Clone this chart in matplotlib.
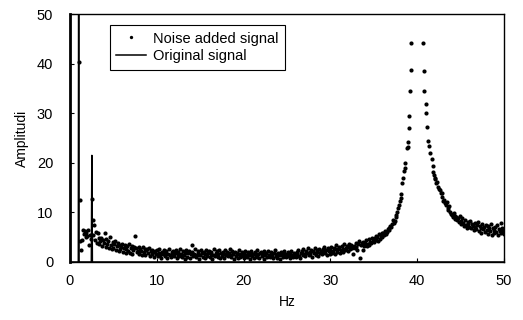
import numpy as np
import matplotlib
matplotlib.use("Agg")
import matplotlib.pyplot as plt

plt.rcParams.update({
    "font.family": ["Liberation Sans", "DejaVu Sans"], "font.size": 10,
    "axes.linewidth": 1.0,
})

# noise-added spectrum, 1.0 .. 37.4 Hz every 0.1 Hz
floor_lo = [
    40.3, 12.6, 4.2, 2.4, 4.4, 6.5, 5.6, 6.2, 5.1, 5.9,
    5.2, 6.4, 3.4, 5.5, 4.6, 12.8, 8.5, 5.4, 7.5, 4.4,
    6.0, 3.9, 5.8, 4.8, 3.6, 4.2, 4.9, 3.3, 4.5, 3.8,
    5.8, 3.1, 4.6, 3.7, 4.2, 2.8, 5.0, 3.4, 2.6, 4.1,
    2.9, 3.6, 4.2, 2.4, 3.3, 3.9, 2.2, 3.5, 2.7, 3.0,
    3.7, 2.1, 2.9, 3.4, 1.8, 2.6, 3.2, 2.3, 3.6, 1.9,
    2.8, 3.3, 1.7, 2.5, 3.0, 5.3, 2.9, 2.0, 2.2, 3.1,
    1.6, 2.7, 2.3, 1.4, 3.0, 2.0, 2.6, 1.5, 2.4, 2.6,
    1.9, 2.8, 1.3, 2.2, 1.7, 2.5, 2.0, 1.1, 2.3, 1.6,
    2.4, 1.2, 1.9, 2.7, 1.5, 0.9, 2.1, 1.7, 2.5, 1.3,
    1.8, 2.2, 0.8, 1.6, 2.6, 1.4, 1.0, 2.0, 1.7, 2.3,
    1.2, 1.9, 2.4, 0.9, 1.5, 2.1, 1.3, 2.7, 1.6, 1.0,
    2.2, 1.4, 0.7, 1.9, 2.5, 1.1, 1.8, 2.3, 0.8, 1.6,
    3.4, 2.0, 1.2, 1.7, 2.6, 1.0, 1.5, 2.2, 1.9, 0.6,
    1.4, 2.4, 1.8, 1.1, 2.1, 1.6, 0.9, 2.5, 1.3, 1.9,
    2.3, 1.0, 1.7, 2.0, 0.7, 1.5, 2.6, 1.2, 1.8, 2.2,
    1.1, 1.6, 2.4, 0.9, 1.9, 1.3, 2.1, 1.7, 0.8, 2.5,
    1.5, 2.0, 1.2, 1.8, 2.7, 1.0, 1.4, 2.2, 1.6, 0.7,
    2.1, 1.3, 1.9, 0.8, 1.6, 2.4, 1.1, 1.7, 2.0, 1.2,
    0.9, 1.8, 2.3, 1.4, 1.0, 2.0, 1.5, 0.6, 1.9, 2.2,
    1.3, 1.7, 0.8, 2.1, 1.5, 1.1, 2.5, 1.6, 0.9, 1.8,
    2.0, 1.2, 1.6, 2.3, 0.7, 1.4, 1.9, 1.1, 2.2, 1.5,
    1.0, 1.7, 2.1, 1.3, 0.8, 1.8, 2.4, 1.2, 1.6, 0.9,
    1.9, 1.4, 0.7, 2.0, 1.5, 1.1, 1.8, 2.2, 1.3, 1.0,
    1.6, 2.1, 1.2, 0.8, 1.7, 2.3, 1.4, 1.0, 1.9, 1.5,
    1.1, 2.0, 1.6, 2.4, 1.3, 0.9, 1.8, 2.2, 1.5, 2.6,
    1.7, 1.2, 2.3, 1.9, 2.8, 1.4, 2.1, 1.6, 2.5, 1.0,
    2.2, 1.8, 2.9, 1.5, 2.4, 2.0, 1.3, 2.7, 1.9, 2.3,
    1.6, 2.6, 2.1, 3.0, 1.8, 2.4, 1.4, 2.8, 2.2, 1.7,
    2.5, 3.1, 1.9, 2.3, 2.9, 1.6, 2.7, 3.4, 2.1, 2.6,
    3.0, 1.8, 2.4, 3.3, 2.7, 2.0, 3.6, 2.5, 2.9, 3.2,
    2.2, 3.1, 3.7, 2.6, 3.4, 2.9, 1.7, 3.3, 2.8, 3.9,
    3.1, 2.5, 3.6, 4.2, 0.9, 3.4, 3.8, 2.4, 4.0, 3.3,
    3.9, 4.4, 3.2, 3.7, 4.6, 3.5, 4.1, 3.8, 4.9, 4.3,
    4.0, 4.8, 5.3, 4.5, 5.0, 4.2, 5.6, 4.7, 5.2, 5.9,
    5.1, 5.8, 5.4, 6.2, 5.7, 6.0, 6.6, 6.8, 6.4, 7.3,
    7.1, 7.6, 8.5, 7.9, 8.3,
]
# resonance near 40 Hz (values above 50 fall off the chart)
peak_hz = [37.5, 37.6, 37.7, 37.8, 37.9, 38.0, 38.1, 38.15, 38.3, 38.4,
           38.5, 38.55, 38.6, 38.8, 38.91, 38.98, 39.06, 39.08, 39.17, 39.24,
           39.28, 40.63, 40.76, 40.82, 40.98, 41.06, 41.1, 41.27, 41.38, 41.5,
           41.67, 41.78, 41.86, 41.92, 42.0]
peak_amp = [9.1, 9.5, 10.1, 10.8, 11.4, 12.2, 13.7, 13.0, 15.9, 17.0,
            18.4, 18.9, 20.0, 22.9, 23.1, 24.3, 27.0, 29.4, 34.5, 38.8,
            44.2, 44.1, 38.6, 34.5, 31.8, 30.0, 27.3, 24.5, 23.4, 22.0,
            20.7, 19.3, 18.2, 17.5, 16.9]
# 42.1 .. 50.0 Hz every 0.1 Hz
floor_hi = [
    16.7, 15.9, 16.2, 15.2, 14.8, 14.5, 14.0, 13.9, 13.1,
    12.2, 12.6, 11.8, 11.5, 12.0, 10.9, 10.5, 11.2, 10.0, 9.7,
    9.5, 9.0, 9.8, 8.7, 9.2, 9.1, 8.4, 8.9, 8.1, 9.3,
    8.2, 7.6, 8.8, 7.9, 7.2, 8.5, 7.5, 6.9, 8.0, 7.7,
    7.1, 8.3, 6.8, 7.6, 7.3, 6.5, 7.9, 7.0, 6.6, 7.4,
    8.1, 6.3, 7.2, 6.9, 5.8, 7.7, 6.7, 7.1, 6.1, 7.5,
    6.5, 7.3, 5.6, 6.9, 6.2, 7.6, 5.4, 6.8, 6.4, 5.9,
    7.0, 6.0, 7.4, 5.5, 6.6, 6.3, 7.8, 5.8, 6.9, 6.2,
    5.7,
]
# original (noise-free) signal
orig_hz = [0.0, 0.96, 1.0, 1.04, 2.46, 2.52, 2.58, 50.0]
orig_amp = [0.0, 0.0, 60.0, 0.0, 0.0, 21.5, 0.0, 0.0]

hz_lo = np.linspace(1.0, 37.4, len(floor_lo))
hz_hi = np.linspace(42.1, 50.0, len(floor_hi))
noise_hz = np.concatenate([hz_lo, peak_hz, hz_hi])
noise_amp = np.concatenate([floor_lo, peak_amp, floor_hi])

fig = plt.figure(figsize=(5.23, 3.2), dpi=100)
ax = fig.add_axes([0.1338, 0.1813, 0.8299, 0.7747])
ax.plot(noise_hz, noise_amp, "o", color="black", ms=3.0, mew=0,
        label="Noise added signal")
ax.plot(orig_hz, orig_amp, "-", color="black", lw=1.1, label="Original signal")

ax.set_xlim(0, 50)
ax.set_ylim(0, 50)
ax.set_xticks([0, 10, 20, 30, 40, 50])
ax.set_yticks([0, 10, 20, 30, 40, 50])
ax.tick_params(direction="in", length=3, width=0.8, labelsize=10.5)
ax.tick_params(axis="y", pad=12)
ax.tick_params(axis="x", pad=9)
ax.spines["left"].set_linewidth(2.0)
ax.set_xlabel("Hz", fontsize=10, labelpad=5)
ax.set_ylabel("Amplitudi", fontsize=10, labelpad=6)

leg = ax.legend(loc="upper left", bbox_to_anchor=(0.092, 0.956),
                borderaxespad=0, fancybox=False, edgecolor="black",
                framealpha=1, fontsize=10.5, handlelength=2.0,
                handletextpad=0.5, borderpad=0.45, labelspacing=0.25,
                markerscale=0.8)
leg.get_frame().set_linewidth(0.8)

fig.savefig("out.png", dpi=100)
